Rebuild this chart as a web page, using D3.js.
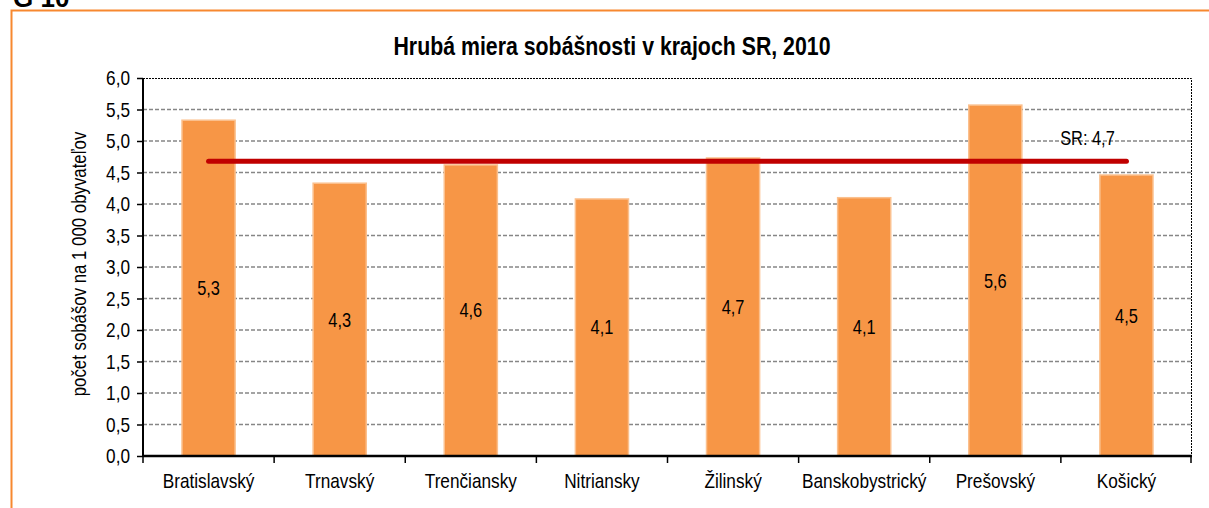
<!DOCTYPE html>
<html>
<head>
<meta charset="utf-8">
<title>Hrubá miera sobášnosti v krajoch SR, 2010</title>
<style>
    body { margin: 0; background: #fff; }
    svg text { font-family: "Liberation Sans", Arial, sans-serif; fill: #000; }
</style>
</head>
<body>
<script src="https://d3js.org/d3.v7.min.js"></script>
<script>

    var regions = ["Bratislavský", "Trnavský", "Trenčiansky", "Nitriansky", "Žilinský",
        "Banskobystrický", "Prešovský", "Košický"];
    var rates = [5.33, 4.33, 4.62, 4.08, 4.73, 4.1, 5.57, 4.46];
    var rateLabels = ["5,3", "4,3", "4,6", "4,1", "4,7", "4,1", "5,6", "4,5"];
    var srValue = 4.68;
    var srLabel = "SR: 4,7";
    var yTicks = [0, 0.5, 1, 1.5, 2, 2.5, 3, 3.5, 4, 4.5, 5, 5.5, 6];

    var width = 1209,
        height = 508;
    var margin = {top: 78, right: 17, bottom: 52, left: 143};
    var plotW = width - margin.left - margin.right,
        plotH = height - margin.top - margin.bottom;

    // no Arial Narrow here, so squeeze the regular face sideways
    var squeeze = 0.82;
    function narrow(sel) {
        sel.each(function () {
            var t = d3.select(this);
            var tx = +t.attr("x") || 0,
                ty = +t.attr("y") || 0;
            var prev = t.attr("transform") || "";
            t.attr("x", 0).attr("y", 0)
                .attr("transform", prev + " translate(" + tx + "," + ty + ") scale(" + squeeze + ",1)");
        });
    }

    var svg = d3.select("body").append("svg")
        .attr("width", width)
        .attr("height", height);

    // orange frame of the box, cut by the page edge
    svg.append("path")
        .attr("d", "M11.5," + height + "V10.5H" + width)
        .attr("fill", "none")
        .attr("stroke", "#f7882f")
        .attr("stroke-width", 2);

    svg.append("text")
        .attr("x", 13)
        .attr("y", 7)
        .style("font-weight", "bold")
        .style("font-size", "26px")
        .text("G 10");

    svg.append("text")
        .attr("class", "nw")
        .attr("x", 612)
        .attr("y", 55)
        .attr("text-anchor", "middle")
        .style("font-weight", "bold")
        .style("font-size", "26px")
        .text("Hrubá miera sobášnosti v krajoch SR, 2010");

    var g = svg.append("g")
        .attr("transform", "translate(" + margin.left + "," + margin.top + ")");

    var x = d3.scaleBand()
        .domain(regions)
        .range([0, plotW])
        .paddingInner(0.595)
        .paddingOuter(0.2975);

    var y = d3.scaleLinear()
        .domain([0, 6])
        .range([plotH, 0]);

    // grid lines
    g.append("g")
        .selectAll("line")
        .data(yTicks.filter(function (d) { return d > 0 && d < 6; }))
        .enter().append("line")
        .attr("x1", 0)
        .attr("x2", plotW)
        .attr("y1", function (d) { return y(d); })
        .attr("y2", function (d) { return y(d); })
        .attr("stroke", "#868686")
        .attr("stroke-width", 1.5)
        .attr("stroke-dasharray", "4,2");

    // dashed plot border (top and right)
    g.append("path")
        .attr("d", "M0," + (y(6) + 0.5) + "H" + (plotW - 0.5) + "V" + plotH)
        .attr("fill", "none")
        .attr("stroke", "#000")
        .attr("stroke-width", 1)
        .attr("stroke-dasharray", "2,1");

    // bars
    g.append("g")
        .selectAll("rect")
        .data(regions)
        .enter().append("rect")
        .attr("x", function (d) { return x(d); })
        .attr("y", function (d, i) { return y(rates[i]); })
        .attr("width", x.bandwidth())
        .attr("height", function (d, i) { return plotH - y(rates[i]); })
        .attr("fill", "#f79646")
        .attr("stroke", "#fbc08e")
        .attr("stroke-width", 1.5);

    // value labels
    g.append("g")
        .selectAll("text")
        .data(regions)
        .enter().append("text")
        .attr("class", "nw")
        .attr("x", function (d) { return x(d) + x.bandwidth() / 2; })
        .attr("y", function (d, i) { return (y(rates[i]) + plotH) / 2; })
        .attr("dy", "0.35em")
        .attr("text-anchor", "middle")
        .style("font-size", "20px")
        .text(function (d, i) { return rateLabels[i]; });

    // SR average line
    var first = regions[0], last = regions[regions.length - 1];
    g.append("line")
        .attr("x1", x(first) + x.bandwidth() / 2)
        .attr("x2", x(last) + x.bandwidth() / 2)
        .attr("y1", y(srValue))
        .attr("y2", y(srValue))
        .attr("stroke", "#c00000")
        .attr("stroke-width", 5)
        .attr("stroke-linecap", "round");

    g.append("text")
        .attr("class", "nw")
        .attr("x", x(last) + x.bandwidth() / 2 - 39)
        .attr("y", y(srValue) - 16)
        .attr("text-anchor", "middle")
        .style("font-size", "20px")
        .text(srLabel);

    // y axis
    var yAxis = g.append("g")
        .call(d3.axisLeft(y)
            .tickValues(yTicks)
            .tickSize(6)
            .tickFormat(function (d) { return d3.format(".1f")(d).replace(".", ","); }));
    yAxis.select(".domain").attr("stroke-width", 2).attr("d", "M0," + plotH + "V" + y(6));
    yAxis.selectAll(".tick line").attr("stroke-width", 1.5);
    yAxis.selectAll("text")
        .attr("class", "nw")
        .attr("x", -13)
        .style("font-size", "21px")
        .style("font-family", "'Liberation Sans', Arial, sans-serif");

    // x axis
    var xAxis = g.append("g")
        .attr("transform", "translate(0," + plotH + ")")
        .call(d3.axisBottom(x).tickSize(0));
    xAxis.select(".domain").attr("stroke-width", 2.5).attr("d", "M0,0H" + plotW);
    xAxis.selectAll("text")
        .attr("class", "nw")
        .attr("y", 17)
        .style("font-size", "21px")
        .style("font-family", "'Liberation Sans', Arial, sans-serif");

    // category boundary ticks
    var step = x.step();
    xAxis.append("g")
        .selectAll("line")
        .data(d3.range(regions.length + 1))
        .enter().append("line")
        .attr("x1", function (i) { return Math.min(i * step, plotW - 1); })
        .attr("x2", function (i) { return Math.min(i * step, plotW - 1); })
        .attr("y1", 0)
        .attr("y2", 7)
        .attr("stroke", "#000")
        .attr("stroke-width", 1.5);

    // y axis title
    svg.append("text")
        .attr("class", "nw")
        .attr("transform", "translate(86,264) rotate(-90)")
        .attr("text-anchor", "middle")
        .style("font-size", "20.5px")
        .text("počet sobášov na 1 000 obyvateľov");

    narrow(svg.selectAll("text.nw"));

</script>
</body>
</html>
